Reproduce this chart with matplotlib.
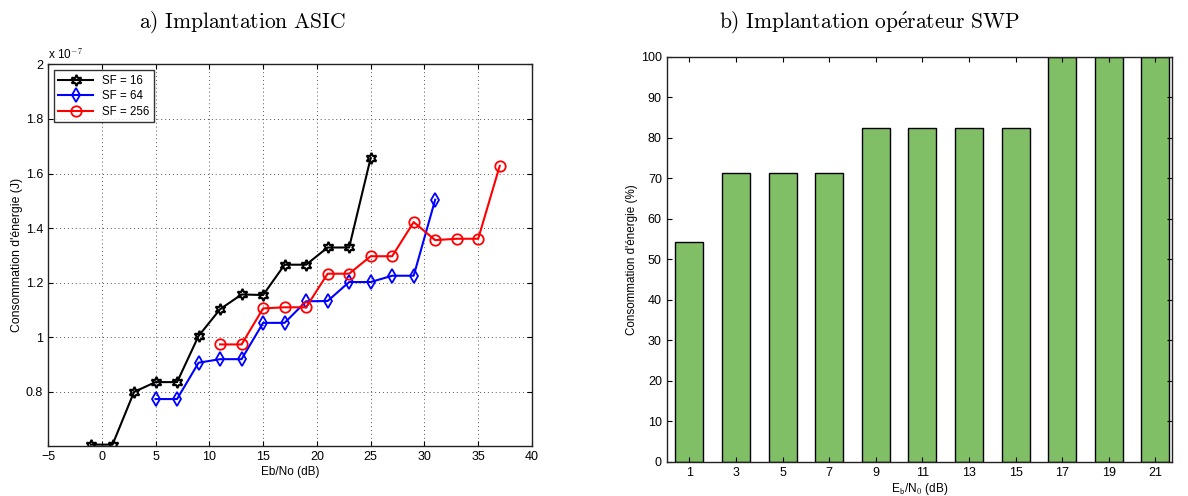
import matplotlib
matplotlib.use('Agg')
import matplotlib.pyplot as plt

plt.rcParams['font.family'] = ['Liberation Sans', 'DejaVu Sans']
plt.rcParams['mathtext.fontset'] = 'cm'

# a) ASIC: energy (x 1e-7 J) vs Eb/No (dB)
ebno_sf16 = [-1, 1, 3, 5, 7, 9, 11, 13, 15, 17, 19, 21, 23, 25]
energy_sf16 = [0.607, 0.607, 0.80, 0.836, 0.836, 1.005, 1.103, 1.157, 1.155,
               1.266, 1.266, 1.329, 1.329, 1.657]
ebno_sf64 = [5, 7, 9, 11, 13, 15, 17, 19, 21, 23, 25, 27, 29, 31]
energy_sf64 = [0.774, 0.774, 0.907, 0.92, 0.92, 1.053, 1.053, 1.132, 1.133,
               1.2025, 1.2025, 1.2256, 1.2256, 1.504]
ebno_sf256 = [11, 13, 15, 17, 19, 21, 23, 25, 27, 29, 31, 33, 35, 37]
energy_sf256 = [0.974, 0.974, 1.106, 1.11, 1.11, 1.233, 1.233, 1.297, 1.297,
                1.422, 1.356, 1.361, 1.361, 1.628]

# b) SWP operator: energy (%) vs Eb/N0
ebno_bars = [1, 3, 5, 7, 9, 11, 13, 15, 17, 19, 21]
energy_pct = [54.2, 71.4, 71.4, 71.4, 82.4, 82.4, 82.4, 82.4, 100, 100, 100]

fig = plt.figure(figsize=(11.88, 4.96), dpi=100)
ax1 = fig.add_axes([0.0404, 0.1008, 0.4074, 0.7696])
ax2 = fig.add_axes([0.5612, 0.0691, 0.4251, 0.8165])

lw = 1.5
ax1.plot(ebno_sf16, energy_sf16, color='black', lw=lw, marker=(6, 1, 0),
         ms=8, mfc='none', mew=1.5, label='SF = 16')
ax1.plot(ebno_sf64, energy_sf64, color='blue', lw=lw, marker='d',
         ms=7.5, mfc='none', mew=1.3, label='SF = 64')
ax1.plot(ebno_sf256, energy_sf256, color='red', lw=lw, marker='o',
         ms=7.5, mfc='none', mew=1.3, label='SF = 256')

ax1.set_xlim(-5, 40)
ax1.set_ylim(0.602, 2.0)
ax1.set_xticks(range(-5, 41, 5))
ax1.set_yticks([0.8, 1.0, 1.2, 1.4, 1.6, 1.8, 2.0])
ax1.set_yticklabels(['0.8', '1', '1.2', '1.4', '1.6', '1.8', '2'])
ax1.set_xticklabels(['\u22125'] + [str(v) for v in range(0, 41, 5)])
ax1.grid(True, ls=(0, (1, 3)), color='#555555', lw=0.7)
ax1.text(0.0, 1.008, r'x 10$^{\mathsf{-7}}$', transform=ax1.transAxes,
         fontsize=8.5, ha='left', va='bottom')
ax1.set_xlabel('Eb/No (dB)', fontsize=8.5, labelpad=2)
ax1.set_ylabel("Consommation d'énergie (J)", fontsize=8.8, labelpad=2)
leg = ax1.legend(loc='upper left', fontsize=8.3, frameon=True, fancybox=False,
                 edgecolor='black', borderaxespad=0.5, handlelength=3,
                 labelspacing=0.3, borderpad=0.4)
leg.get_frame().set_linewidth(1.0)

ax2.bar(ebno_bars, energy_pct, width=1.2, color='#80bf65', edgecolor='black',
        linewidth=1.0)
ax2.set_xlim(0.03, 21.7)
ax2.set_ylim(0, 100)
ax2.set_xticks(ebno_bars)
ax2.set_yticks(range(0, 101, 10))
ax2.set_xlabel(r'E$_\mathsf{b}$/N$_\mathsf{0}$ (dB)', fontsize=8.5, labelpad=2)
ax2.set_ylabel("Consommation d'énergie (%)", fontsize=8.4, labelpad=2)

for ax in (ax1, ax2):
    ax.tick_params(direction='in', top=True, right=True, labelsize=9,
                   length=3.5, width=0.8)
    for sp in ax.spines.values():
        sp.set_linewidth(1.0)
        sp.set_color('#222222')

fig.text(0.204, 0.955, r'$\mathrm{a)\ Implantation\ ASIC}$', fontsize=15.5,
         ha='center', va='center')
fig.text(0.732, 0.955, r'$\mathrm{b)\ Implantation\ op\acute{e}rateur\ SWP}$',
         fontsize=15.5, ha='center', va='center')

fig.savefig('out.png', dpi=100)
